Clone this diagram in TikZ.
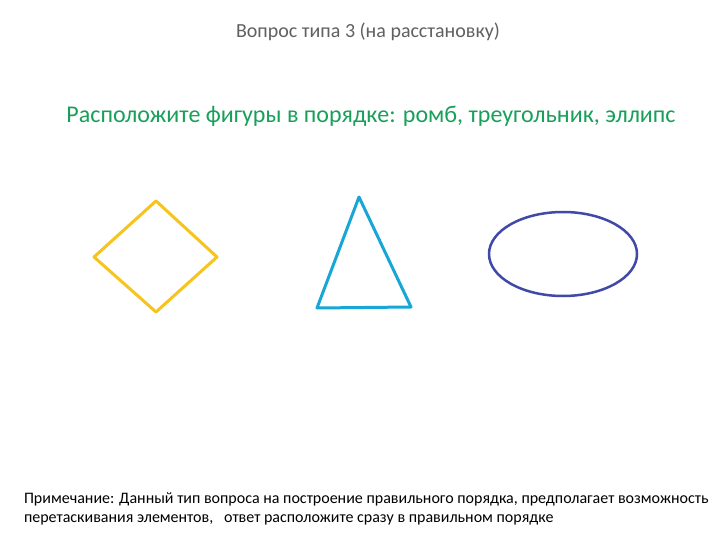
\documentclass[tikz,border=0pt]{standalone}
\usepackage{fontspec}
\setmainfont{Carlito}
\definecolor{titlegrey}{RGB}{96,96,96}
\definecolor{taskgreen}{RGB}{24,160,90}
\definecolor{rhombgold}{RGB}{246,196,28}
\definecolor{trianglecyan}{RGB}{24,166,214}
\definecolor{ellipseblue}{RGB}{64,72,168}
\begin{document}
\begin{tikzpicture}[x=1pt,y=-1pt,
  shapeline/.style={line width=3pt,line join=round,line cap=round},
  every node/.style={inner sep=0pt,outer sep=0pt}]
\useasboundingbox[fill=white] (0,0) rectangle (720,540);
\node[text=titlegrey,font=\fontsize{20}{24}\selectfont] (title) at (368,32) {Вопрос типа 3 (на расстановку)};
\node[text=taskgreen,font=\fontsize{24}{29}\selectfont] (task) at (371,116) {Расположите фигуры в порядке: ромб, треугольник, эллипс};
% rhombus
\coordinate (rt) at (156,201);
\coordinate (rr) at (217,257);
\coordinate (rb) at (156,312);
\coordinate (rl) at (94,257);
\draw[shapeline,rhombgold] (rt) -- (rr) -- (rb) -- (rl) -- cycle;
% triangle
\coordinate (ta) at (359,197);
\coordinate (tl) at (317,308);
\coordinate (tr) at (411,307);
\draw[shapeline,trianglecyan] (ta) -- (tr) -- (tl) -- cycle;
% ellipse
\coordinate (ec) at (563,254);
\draw[line width=2.5pt,ellipseblue] (ec) ellipse [x radius=74,y radius=42];
% note
\node[anchor=west,font=\fontsize{16}{19}\selectfont] (note1) at (24,499) {Примечание: Данный тип вопроса на построение правильного порядка, предполагает возможность};
\node[anchor=west,font=\fontsize{16}{19}\selectfont] (note2) at (24,520) {перетаскивания элементов, \ \ ответ расположите сразу в правильном порядке};
\end{tikzpicture}
\end{document}
